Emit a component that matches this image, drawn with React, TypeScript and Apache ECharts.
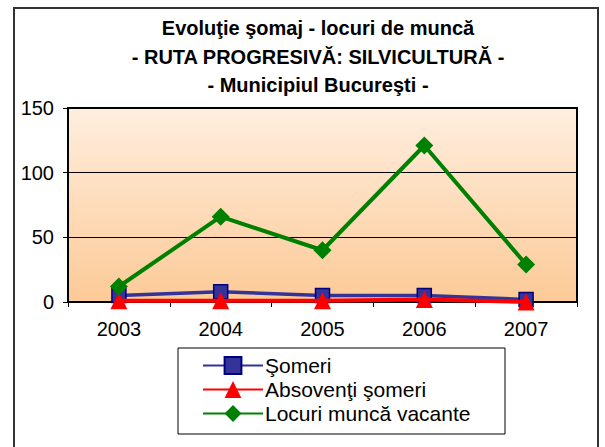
import React, { useEffect, useRef } from "react";
import * as echarts from "echarts";

const years = ["2003", "2004", "2005", "2006", "2007"];
const someri = [5, 8, 5, 5, 2];
const absolventi = [1, 1, 1, 2, 0];
const locuri = [12, 66, 40, 121, 29];
const titleLines = [
  "Evoluţie şomaj - locuri de muncă",
  "- RUTA PROGRESIVĂ: SILVICULTURĂ -",
  "- Municipiul Bucureşti -",
];
const seriesNames = ["Şomeri", "Absovenţi şomeri", "Locuri muncă vacante"];

const FONT = "'Liberation Sans', Arial, sans-serif";

export default function App() {
  const ref = useRef<HTMLDivElement>(null);
  useEffect(() => {
    document.body.style.margin = "0";
    const chart = echarts.init(ref.current!, null, { renderer: "svg" });
    chart.setOption({
      animation: false,
      backgroundColor: "#fff",
      textStyle: { fontFamily: FONT },
      graphic: [
        {
          type: "rect",
          shape: { x: 14, y: 8, width: 584, height: 450 },
          style: { fill: "none", stroke: "#333", lineWidth: 2 },
          z: 0,
        },
        ...titleLines.map((t, i) => ({
          type: "text",
          x: 318,
          y: 28 + i * 28.5,
          style: {
            text: t,
            fontFamily: FONT,
            fontWeight: "bold",
            fontSize: 20,
            fill: "#000",
            align: "center",
            verticalAlign: "middle",
          },
        })),
        {
          type: "rect",
          shape: { x: 178, y: 348, width: 327, height: 86 },
          style: { fill: "#fff", stroke: "#000", lineWidth: 1 },
          z: 5,
        },
      ],
      grid: {
        left: 68,
        top: 108,
        width: 509,
        height: 194,
        show: true,
        borderColor: "#000",
        borderWidth: 2,
        backgroundColor: new echarts.graphic.LinearGradient(0, 0, 0, 1, [
          { offset: 0, color: "#FFEEDF" },
          { offset: 1, color: "#FCCA97" },
        ]),
      },
      legend: {
        orient: "vertical",
        left: 197,
        top: 350,
        itemWidth: 60,
        itemHeight: 21,
        itemGap: 3,
        z: 10,
        textStyle: { fontSize: 21, color: "#000", fontFamily: FONT, padding: [0, 0, 0, -3] },
        data: seriesNames,
      },
      xAxis: {
        type: "category",
        data: years,
        boundaryGap: true,
        axisLine: { lineStyle: { color: "#000", width: 2 } },
        axisTick: { show: true, length: 5, lineStyle: { color: "#000", width: 1 } },
        axisLabel: { color: "#000", fontSize: 20, margin: 17, fontFamily: FONT },
      },
      yAxis: {
        type: "value",
        min: 0,
        max: 150,
        interval: 50,
        axisLine: { show: true, lineStyle: { color: "#000", width: 2 } },
        axisTick: { show: true, length: 5, lineStyle: { color: "#000", width: 1 } },
        axisLabel: { color: "#000", fontSize: 20, margin: 14, fontFamily: FONT },
        splitLine: { show: true, lineStyle: { color: "#000", width: 1 } },
      },
      series: [
        {
          name: seriesNames[0],
          type: "line",
          data: someri,
          symbol: "rect",
          symbolSize: 14,
          lineStyle: { color: "#333399", width: 3.5 },
          itemStyle: { color: "#333399", borderColor: "#000080", borderWidth: 1.5 },
          z: 2,
        },
        {
          name: seriesNames[1],
          type: "line",
          data: absolventi,
          symbol: "triangle",
          symbolSize: 17,
          lineStyle: { color: "#FF0000", width: 4 },
          itemStyle: { color: "#FF0000", borderColor: "#FF0000", borderWidth: 0 },
          z: 3,
        },
        {
          name: seriesNames[2],
          type: "line",
          data: locuri,
          symbol: "diamond",
          symbolSize: 18,
          lineStyle: { color: "#008000", width: 4 },
          itemStyle: { color: "#008000", borderColor: "#008000", borderWidth: 0 },
          z: 4,
        },
      ],
    });
    return () => chart.dispose();
  }, []);
  return (
    <div
      ref={ref}
      style={{ position: "absolute", left: 0, top: 0, width: 605, height: 447 }}
    />
  );
}
